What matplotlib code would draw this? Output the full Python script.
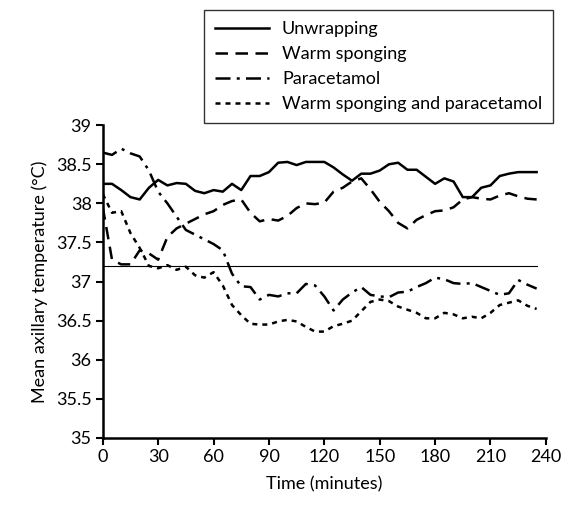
import numpy as np
import matplotlib.pyplot as plt

plt.rcParams['font.family'] = ['Lato', 'DejaVu Sans']

# time points (minutes), readings every 5 min
time = np.arange(0, 240, 5)

unwrapping = [38.25, 38.25, 38.17, 38.08, 38.05, 38.2, 38.3, 38.23, 38.26, 38.25,
              38.16, 38.13, 38.17, 38.15, 38.25, 38.17, 38.35, 38.35, 38.4, 38.52,
              38.53, 38.49, 38.53, 38.53, 38.53, 38.46, 38.37, 38.29, 38.38, 38.38,
              38.42, 38.5, 38.52, 38.43, 38.43, 38.34, 38.25, 38.32, 38.28, 38.08,
              38.08, 38.2, 38.23, 38.35, 38.38, 38.4, 38.4, 38.4]

warm_sponging = [37.95, 37.28, 37.22, 37.22, 37.4, 37.36, 37.28, 37.57, 37.68, 37.74,
                 37.8, 37.86, 37.9, 37.98, 38.03, 38.05, 37.88, 37.77, 37.8, 37.78,
                 37.84, 37.94, 38.0, 37.99, 38.01, 38.15, 38.2, 38.28, 38.32, 38.18,
                 38.02, 37.9, 37.75, 37.68, 37.79, 37.85, 37.9, 37.91, 37.95, 38.05,
                 38.08, 38.06, 38.05, 38.1, 38.13, 38.09, 38.06, 38.05]

paracetamol = [38.65, 38.62, 38.7, 38.64, 38.6, 38.42, 38.15, 38.0, 37.83, 37.66,
               37.6, 37.54, 37.48, 37.4, 37.1, 36.94, 36.93, 36.77, 36.83, 36.81,
               36.85, 36.85, 36.97, 36.95, 36.81, 36.63, 36.77, 36.86, 36.93, 36.83,
               36.81, 36.8, 36.86, 36.87, 36.93, 36.98, 37.05, 37.03, 36.98, 36.97,
               36.98, 36.93, 36.88, 36.83, 36.85, 37.02, 36.96, 36.91]

sponging_paracetamol = [38.12, 37.88, 37.9, 37.62, 37.43, 37.2, 37.17, 37.21, 37.15, 37.19,
                        37.08, 37.05, 37.12, 36.95, 36.7, 36.57, 36.46, 36.45, 36.45, 36.49,
                        36.51, 36.49, 36.42, 36.36, 36.36, 36.43, 36.46, 36.5, 36.62, 36.74,
                        36.77, 36.75, 36.68, 36.64, 36.6, 36.53, 36.53, 36.6, 36.58, 36.53,
                        36.55, 36.53, 36.6, 36.7, 36.73, 36.76, 36.69, 36.65]

reference_temp = 37.2

labels = ['Unwrapping', 'Warm sponging', 'Paracetamol', 'Warm sponging and paracetamol']

fig = plt.figure(figsize=(5.71, 5.11), dpi=100)
ax = fig.add_axes([0.180, 0.143, 0.776, 0.612])

lw = 1.8
l1, = ax.plot(time, unwrapping, color='black', lw=lw, ls='-')
l2, = ax.plot(time, warm_sponging, color='black', lw=lw, ls=(0, (5, 3)))
l3, = ax.plot(time, paracetamol, color='black', lw=lw, ls=(0, (6, 2.5, 1.2, 2.5)))
l4, = ax.plot(time, sponging_paracetamol, color='black', lw=lw, ls=(0, (2, 2)))

ax.plot([time[0], time[-1]], [reference_temp, reference_temp], color='black', lw=0.8)

ax.set_xlim(0, 240)
ax.set_ylim(35, 39)
ax.set_xticks(np.arange(0, 241, 30))
ax.set_yticks(np.arange(35, 39.01, 0.5))
ax.set_yticklabels(['35', '35.5', '36', '36.5', '37', '37.5', '38', '38.5', '39'])

for s in ['top', 'right']:
    ax.spines[s].set_visible(False)
for s in ['left', 'bottom']:
    ax.spines[s].set_linewidth(1.8)
ax.tick_params(direction='out', length=5, width=1.5, labelsize=13, pad=3)

ax.set_xlabel('Time (minutes)', fontsize=13, labelpad=8)
ax.set_ylabel('Mean axillary temperature (°C)', fontsize=13, labelpad=6)

leg = fig.legend([l1, l2, l3, l4], labels, loc='upper right',
                 bbox_to_anchor=(553 / 571, 1 - 10 / 511), fontsize=13,
                 frameon=True, fancybox=False, edgecolor='black',
                 handlelength=3.0, handletextpad=0.7, labelspacing=0.5,
                 borderpad=0.6, borderaxespad=0)
leg.get_frame().set_linewidth(1.0)

fig.savefig('out.png', dpi=100)
